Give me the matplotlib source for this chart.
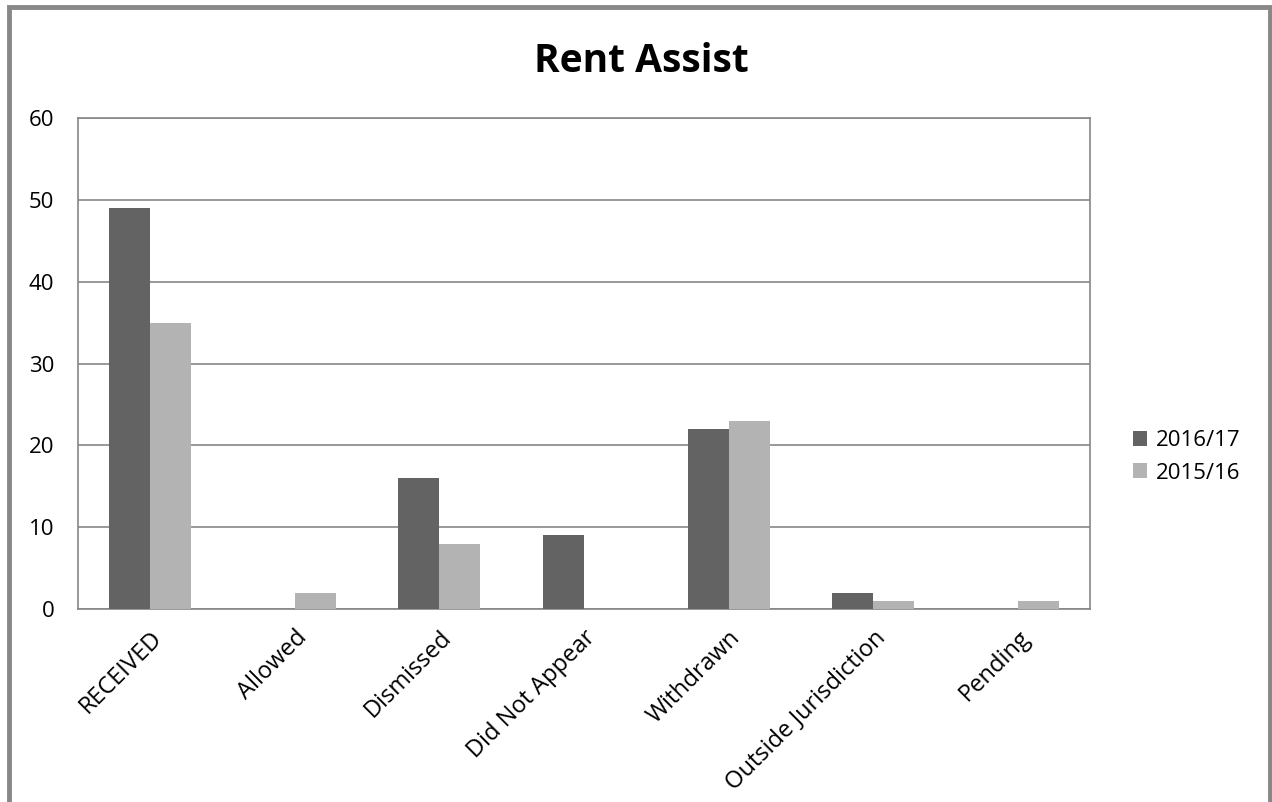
import matplotlib
matplotlib.use("Agg")
import matplotlib.pyplot as plt
import numpy as np
from matplotlib.patches import Rectangle

categories = ["RECEIVED", "Allowed", "Dismissed", "Did Not Appear", "Withdrawn",
              "Outside Jurisdiction", "Pending"]
series_names = ["2016/17", "2015/16"]
values_2016 = [49, 0, 16, 9, 22, 2, 0]
values_2015 = [35, 2, 8, 0, 23, 1, 1]
yticks = [0, 10, 20, 30, 40, 50, 60]

plt.rcParams['font.family'] = ['Open Sans', 'DejaVu Sans']

fig = plt.figure(figsize=(12.72, 8.02), dpi=100)
ax = fig.add_axes([78/1272, 1-609/802, (1090-78)/1272, (609-118)/802])

x = np.arange(len(categories))
w = 0.284
ax.bar(x - w/2, values_2016, w, color='#636363', label=series_names[0], zorder=3)
ax.bar(x + w/2, values_2015, w, color='#b3b3b3', label=series_names[1], zorder=3)

ax.set_xlim(-0.5, len(categories) - 0.5)
ax.set_ylim(0, 60)
ax.set_yticks(yticks)
ax.set_yticklabels([str(t) for t in yticks], fontsize=16)
ax.yaxis.grid(True, color='#868686', linewidth=1.2, zorder=0)
ax.set_xticks(x)
ax.set_xticklabels(categories, rotation=45, ha='right', rotation_mode='anchor', fontsize=17)
ax.tick_params(axis='both', length=0)
ax.tick_params(axis='y', pad=17)
ax.tick_params(axis='x', pad=12)
for s in ax.spines.values():
    s.set_color('#868686')
    s.set_linewidth(1.2)

fig.text(641/1272, 1 - 72/802, "Rent Assist", fontsize=28, fontweight='bold',
         ha='center', va='baseline')

leg = ax.legend(loc='center left', bbox_to_anchor=((1133-78)/1012, (609-457)/491),
                frameon=False, fontsize=16, handlelength=0.65, handleheight=0.65,
                handletextpad=0.4, labelspacing=0.5, borderpad=0, borderaxespad=0)

fig.patches.append(Rectangle((9/1272, -0.05), (1270-9)/1272, 1.05 - 7/802, transform=fig.transFigure,
                             fill=False, edgecolor='#888888', linewidth=3.5))

fig.savefig("out.png", dpi=100)
